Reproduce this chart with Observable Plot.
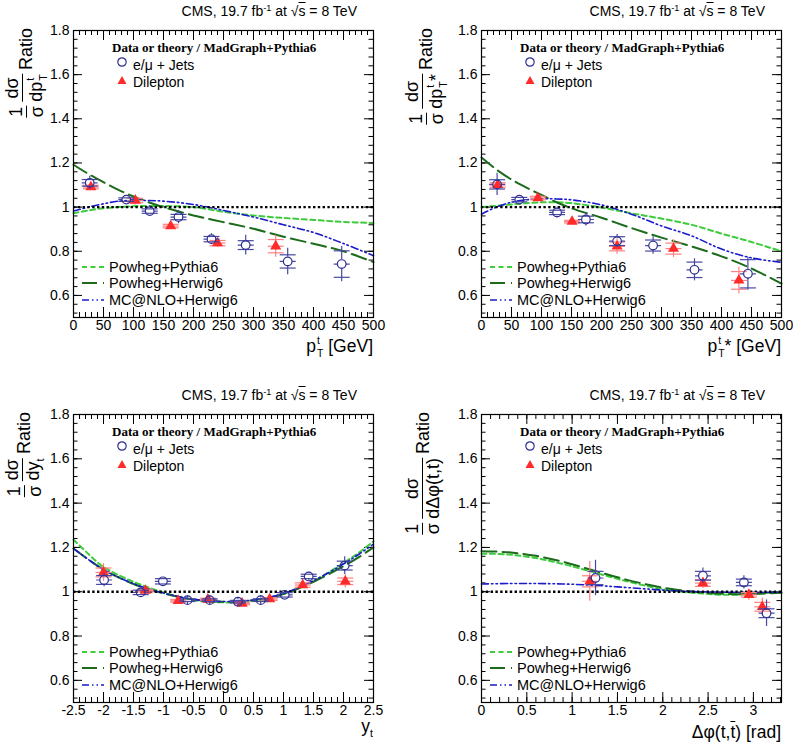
<!DOCTYPE html>
<html><head><meta charset="utf-8">
<script src="https://cdn.jsdelivr.net/npm/d3@7"></script>
<script src="https://cdn.jsdelivr.net/npm/@observablehq/plot@0.6"></script>
<style>
body{margin:0;background:#fff;width:793px;height:749px;position:relative;overflow:hidden;font-family:"Liberation Sans",Arial,Helvetica,sans-serif;color:#000;}
.panel{position:absolute;}
.panel svg{display:block;}
.abs{position:absolute;white-space:nowrap;line-height:1;}
.ylab{position:absolute;transform-origin:0 0;transform:rotate(-90deg) translateX(-100%);display:flex;align-items:center;font-size:18px;white-space:nowrap;line-height:1;}
.frac{display:inline-flex;flex-direction:column;align-items:center;margin-right:4px;}
.frac .num{border-bottom:1.5px solid #000;padding:0 1px 1px;text-align:center;align-self:stretch;}
.frac .den{padding-top:1px;}
.ss{display:inline-flex;flex-direction:column;font-size:0.6em;line-height:1.2;vertical-align:0.75em;margin-left:1px;}
.ol{text-decoration:overline;}
.ltitle{font-family:"Liberation Serif","Times New Roman",serif;font-weight:bold;font-size:13px;}
</style></head><body>
<script>
// ---------------- DATA ----------------
const yTicks = [0.6, 0.8, 1, 1.2, 1.4, 1.6, 1.8];
const ptTicks = [0, 50, 100, 150, 200, 250, 300, 350, 400, 450, 500];
const yTopTicks = [-2.5, -2, -1.5, -1, -0.5, 0, 0.5, 1, 1.5, 2, 2.5];
const dphiTicks = [0, 0.5, 1, 1.5, 2, 2.5, 3];

// top-quark pT
const ptLJx   = [27, 88, 127, 175, 230, 287, 357, 447];
const ptLJv   = [1.11, 1.034, 0.982, 0.955, 0.855, 0.828, 0.754, 0.742];
const ptLJerr = [0.03, 0.02, 0.025, 0.03, 0.025, 0.045, 0.06, 0.08];
const ptLJst  = [0.015, 0.008, 0.01, 0.012, 0.012, 0.02, 0.03, 0.06];
const ptDLx   = [29, 103, 162, 240, 337];
const ptDLv   = [1.091, 1.03, 0.914, 0.837, 0.823];
const ptDLerr = [0.015, 0.02, 0.015, 0.02, 0.05];
const ptDLst  = [0.008, 0.01, 0.008, 0.012, 0.03];
const ptGrid  = [0, 25, 50, 75, 100, 125, 150, 200, 250, 300, 350, 400, 450, 500];
const ptPowPy = [0.972, 0.985, 0.995, 1.0, 1.004, 1.005, 1.005, 1.0, 0.979, 0.962, 0.951, 0.942, 0.933, 0.928];
const ptPowHw = [1.192, 1.15, 1.113, 1.078, 1.048, 1.022, 1.0, 0.962, 0.932, 0.902, 0.866, 0.834, 0.80, 0.751];
const ptMcHw  = [0.982, 1.0, 1.015, 1.027, 1.03, 1.03, 1.027, 1.012, 0.985, 0.955, 0.92, 0.885, 0.835, 0.78];

// top-quark pT in ttbar rest frame
const psLJx   = [26, 63, 126, 174, 226, 286, 355, 444];
const psLJv   = [1.103, 1.034, 0.976, 0.944, 0.846, 0.826, 0.716, 0.698];
const psLJerr = [0.05, 0.02, 0.025, 0.03, 0.03, 0.04, 0.05, 0.075];
const psLJst  = [0.021, 0.01, 0.01, 0.015, 0.02, 0.025, 0.035, 0.064];
const psDLx   = [27, 94, 151, 226, 320, 429];
const psDLv   = [1.1, 1.041, 0.934, 0.822, 0.812, 0.668];
const psDLerr = [0.02, 0.015, 0.012, 0.035, 0.04, 0.06];
const psDLst  = [0.01, 0.008, 0.006, 0.02, 0.025, 0.04];
const psGrid  = [0, 25, 50, 75, 100, 125, 150, 200, 250, 300, 350, 400, 450, 500];
const psPowPy = [1.0, 1.006, 1.012, 1.018, 1.022, 1.022, 1.018, 0.998, 0.972, 0.948, 0.92, 0.88, 0.842, 0.80];
const psPowHw = [1.225, 1.17, 1.125, 1.088, 1.055, 1.022, 0.995, 0.952, 0.905, 0.862, 0.822, 0.777, 0.722, 0.653];
const psMcHw  = [0.968, 1.0, 1.022, 1.033, 1.038, 1.037, 1.033, 1.01, 0.968, 0.915, 0.87, 0.81, 0.77, 0.75];

// top-quark rapidity
const ytLJx   = [-1.99, -1.38, -1.01, -0.6, -0.23, 0.24, 0.62, 1.02, 1.42, 2.02];
const ytLJv   = [1.053, 0.997, 1.047, 0.962, 0.962, 0.955, 0.962, 0.986, 1.069, 1.118];
const ytLJerr = [0.03, 0.02, 0.02, 0.01, 0.01, 0.01, 0.01, 0.02, 0.015, 0.04];
const ytLJst  = [0.02, 0.01, 0.012, 0.006, 0.006, 0.006, 0.006, 0.01, 0.01, 0.02];
const ytDLx   = [-2.0, -1.3, -0.755, -0.26, 0.31, 0.77, 1.32, 2.03];
const ytDLv   = [1.087, 1.005, 0.959, 0.965, 0.947, 0.967, 1.03, 1.047];
const ytDLerr = [0.04, 0.01, 0.01, 0.01, 0.01, 0.01, 0.015, 0.03];
const ytDLst  = [0.02, 0.006, 0.006, 0.006, 0.006, 0.006, 0.01, 0.015];
const ytGrid  = [-2.5, -2.25, -2, -1.5, -1, -0.5, 0, 0.5, 1, 1.5, 2, 2.25, 2.5];
const ytPowPy = [1.235, 1.17, 1.112, 1.045, 0.997, 0.962, 0.952, 0.958, 0.99, 1.048, 1.13, 1.175, 1.228];
const ytPowHw = [1.195, 1.145, 1.1, 1.035, 0.993, 0.965, 0.955, 0.962, 0.99, 1.045, 1.115, 1.155, 1.2];
const ytMcHw  = [1.195, 1.145, 1.1, 1.036, 0.994, 0.966, 0.956, 0.963, 0.992, 1.05, 1.125, 1.168, 1.215];

// azimuthal difference
const dpLJx   = [1.258, 2.443, 2.895, 3.145];
const dpLJv   = [1.062, 1.072, 1.042, 0.903];
const dpLJerr = [0.08, 0.035, 0.03, 0.06];
const dpLJst  = [0.03, 0.02, 0.015, 0.02];
const dpDLx   = [1.195, 2.443, 2.95, 3.098];
const dpDLv   = [1.047, 1.039, 0.986, 0.932];
const dpDLerr = [0.09, 0.025, 0.025, 0.04];
const dpDLst  = [0.025, 0.015, 0.01, 0.02];
const dpGrid  = [0, 0.3, 0.6, 0.9, 1.2, 1.5, 1.8, 2.1, 2.4, 2.7, 3.0, 3.31];
const dpPowPy = [1.172, 1.168, 1.152, 1.125, 1.092, 1.058, 1.028, 1.005, 0.993, 0.986, 0.99, 1.0];
const dpPowHw = [1.183, 1.178, 1.162, 1.135, 1.1, 1.065, 1.035, 1.012, 0.998, 0.99, 0.99, 0.995];
const dpMcHw  = [1.035, 1.037, 1.037, 1.035, 1.03, 1.022, 1.013, 1.005, 1.0, 0.998, 0.997, 0.998];

// ---------------- STYLE ----------------
const FONT = '"Liberation Sans", Arial, Helvetica, sans-serif';
const Y_DOMAIN = [0.5, 1.8];
const C_LJ = "#2f2f91", C_LJ_ERR = "#4848a3", C_DL = "#ff2a2a", C_DL_ERR = "#ff8080";
const SERIES = [
  {name: "Powheg+Pythia6", stroke: "#3ccc3c", dash: "5,3.5", width: 2},
  {name: "Powheg+Herwig6", stroke: "#1b6b1b", dash: "15,6", width: 2},
  {name: "MC@NLO+Herwig6", stroke: "#1a1acc", dash: "7,3,1.5,3,1.5,3", width: 1.6}
];
const fmt = d => String(+d.toFixed(2));
const hbar = {draw(ctx, size) { const r = Math.sqrt(size / Math.PI); ctx.moveTo(-r, 0); ctx.lineTo(r, 0); }};
const hbarGap = {draw(ctx, size) { const r = Math.sqrt(size / Math.PI); ctx.moveTo(-r, 0); ctx.lineTo(-4.3, 0); ctx.moveTo(4.3, 0); ctx.lineTo(r, 0); }};

const zipPts = (xs, vs, es, ss) => xs.map((x, i) => ({x, v: vs[i], e: es[i], s: ss[i]}));
const zipLine = (xs, vs) => xs.map((x, i) => ({x, y: vs[i]}));

const HEADER = 'CMS, 19.7 fb<sup style="font-size:0.65em;vertical-align:0.55em">-1</sup> at &radic;<span class="ol">s</span> = 8 TeV';
const ss = (a, b) => `<span class="ss"><span>${a}</span><span>${b}</span></span>`;

function mkPanel(cfg) {
  const {left, top, width, height, mL, mR, mT, mB, xDomain, xMajor, xMinorStep, lj, dl, curves, ylab, xlab, xlabBase} = cfg;
  const fw = width - mL - mR, fh = height - mT - mB;
  const yPx = fh / (Y_DOMAIN[1] - Y_DOMAIN[0]);
  const gap = 4.3 / yPx;
  const xMinor = d3.range(Math.round(xDomain[0] / xMinorStep), Math.floor(xDomain[1] / xMinorStep + 1e-6) + 1).map(k => +(k * xMinorStep).toFixed(4));
  const yMinor = d3.range(13, 46).map(k => +(k * 0.04).toFixed(2)).filter(v => v > 0.5 && v <= 1.8);
  const tk = {stroke: "#000", strokeWidth: 1};
  const marks = [
    Plot.tickX(xMinor, {x: d => d, insetTop: fh - 5, ...tk}),
    Plot.tickX(xMajor, {x: d => d, insetTop: fh - 10, ...tk}),
    Plot.tickX(xMinor, {x: d => d, insetBottom: fh - 5, ...tk}),
    Plot.tickX(xMajor, {x: d => d, insetBottom: fh - 10, ...tk}),
    Plot.tickY(yMinor, {y: d => d, insetRight: fw - 4.5, ...tk}),
    Plot.tickY(yTicks, {y: d => d, insetRight: fw - 9, ...tk}),
    Plot.tickY(yMinor, {y: d => d, insetLeft: fw - 4.5, ...tk}),
    Plot.tickY(yTicks, {y: d => d, insetLeft: fw - 9, ...tk}),
    Plot.axisX(xMajor, {tickSize: 0, tickPadding: 3, tickFormat: fmt, fontSize: 14, label: null}),
    Plot.axisY(yTicks, {tickSize: 0, tickPadding: 4, tickFormat: fmt, fontSize: 14, label: null}),
    ...curves.map((c, i) => Plot.line(c, {x: "x", y: "y", curve: "catmull-rom", stroke: SERIES[i].stroke, strokeWidth: SERIES[i].width, strokeDasharray: SERIES[i].dash})),
    Plot.ruleY([1], {stroke: "#000", strokeWidth: 2.4, strokeDasharray: "2.4,2.4"}),
    // dilepton
    Plot.ruleX(dl, {x: "x", y1: d => d.v - d.e, y2: d => d.v + d.e, stroke: C_DL_ERR, strokeWidth: 1.2}),
    Plot.dot(dl, {x: "x", y: d => d.v + d.s, symbol: hbar, r: 8, stroke: C_DL_ERR, strokeWidth: 1.2}),
    Plot.dot(dl, {x: "x", y: d => d.v - d.s, symbol: hbar, r: 8, stroke: C_DL_ERR, strokeWidth: 1.2}),
    Plot.dot(dl, {x: "x", y: "v", symbol: hbar, r: 8, stroke: C_DL_ERR, strokeWidth: 1.2}),
    Plot.dot(dl, {x: "x", y: "v", symbol: "triangle", r: 4.1, fill: C_DL, stroke: "none"}),
    // lepton+jets
    Plot.ruleX(lj, {x: "x", y1: d => d.v + gap, y2: d => d.v + d.e, stroke: C_LJ_ERR, strokeWidth: 1.2}),
    Plot.ruleX(lj, {x: "x", y1: d => d.v - gap, y2: d => d.v - d.e, stroke: C_LJ_ERR, strokeWidth: 1.2}),
    Plot.dot(lj, {x: "x", y: d => d.v + d.s, symbol: hbar, r: 8, stroke: C_LJ_ERR, strokeWidth: 1.2}),
    Plot.dot(lj, {x: "x", y: d => d.v - d.s, symbol: hbar, r: 8, stroke: C_LJ_ERR, strokeWidth: 1.2}),
    Plot.dot(lj, {x: "x", y: "v", symbol: hbarGap, r: 8, stroke: C_LJ_ERR, strokeWidth: 1.2}),
    Plot.dot(lj, {x: "x", y: "v", r: 4.3, fill: "none", stroke: C_LJ, strokeWidth: 1.2}),
    Plot.frame({stroke: "#000", strokeWidth: 1.2})
  ];
  const chart = Plot.plot({
    width, height, marginLeft: mL, marginRight: mR, marginTop: mT, marginBottom: mB,
    x: {domain: xDomain}, y: {domain: Y_DOMAIN},
    style: {fontFamily: FONT, fontSize: "14px", background: "#fff", color: "#000"},
    marks
  });
  const div = document.createElement("div");
  div.className = "panel";
  div.style.left = left + "px"; div.style.top = top + "px";
  div.style.width = width + "px"; div.style.height = height + "px";
  div.appendChild(chart);
  const add = (html, css, cls = "abs") => {
    const e = document.createElement("div");
    e.className = cls; e.innerHTML = html;
    Object.assign(e.style, css);
    div.appendChild(e);
    return e;
  };
  // header
  add(HEADER, {right: (width - (mL + fw - 16)) + "px", top: (mT - 14 - 0.85 * 14) + "px", fontSize: "14px"});
  // legend (data)
  add("Data or theory / MadGraph+Pythia6", {left: (mL + 39) + "px", top: (mT + 22 - 0.84 * 13) + "px"}, "abs ltitle");
  add(`<svg width="10" height="10" style="position:absolute;left:-${60-44}px;top:-1px"><circle cx="5" cy="5" r="4.2" fill="none" stroke="${C_LJ}" stroke-width="1.2"/></svg>e/&mu; + Jets`,
      {left: (mL + 60) + "px", top: (mT + 39.5 - 0.85 * 14) + "px", fontSize: "14px"});
  add(`<svg width="10" height="10" style="position:absolute;left:-${60-44}px;top:0px"><path d="M5,1 L9.5,9 L0.5,9 Z" fill="${C_DL}"/></svg>Dilepton`,
      {left: (mL + 60) + "px", top: (mT + 56.5 - 0.85 * 14) + "px", fontSize: "14px"});
  // legend (theory)
  const rows = [50.3, 33.7, 17];
  SERIES.forEach((s, i) => {
    const cy = mT + fh - rows[i];
    add(`<svg width="22" height="6" style="position:absolute;left:-27px;top:${0.85 * 14 - 5 - 3}px"><line x1="0" y1="3" x2="22" y2="3" stroke="${s.stroke}" stroke-width="${s.width}" stroke-dasharray="${s.dash}"/></svg>${s.name}`,
        {left: (mL + 36) + "px", top: (cy + 5 - 0.85 * 14) + "px", fontSize: "14.5px"});
  });
  // axis titles
  add(xlab, {right: (width - (mL + fw)) + "px", top: (mT + fh + xlabBase - 0.85 * 17.5) + "px", fontSize: "17.5px"});
  add(ylab, {left: "3px", top: (mT - 2) + "px"}, "ylab");
  document.body.appendChild(div);
}

const fracs = den => `<span class="frac"><span class="num">1</span><span class="den">&sigma;</span></span><span class="frac"><span class="num">d&sigma;</span><span class="den">${den}</span></span><span>Ratio</span>`;

const defsTop = {top: 0, height: 370, mT: 30, mB: 53};
const defsBot = {top: 370, height: 379, mT: 44, mB: 47};
mkPanel({...defsTop, left: 0, width: 400, mL: 73, mR: 27, xDomain: [0, 500], xMajor: ptTicks, xMinorStep: 10,
  lj: zipPts(ptLJx, ptLJv, ptLJerr, ptLJst), dl: zipPts(ptDLx, ptDLv, ptDLerr, ptDLst),
  curves: [zipLine(ptGrid, ptPowPy), zipLine(ptGrid, ptPowHw), zipLine(ptGrid, ptMcHw)],
  ylab: fracs("dp" + ss("t", "T")), xlab: "p" + ss("t", "T") + " [GeV]", xlabBase: 32});
mkPanel({...defsTop, left: 400, width: 393, mL: 81, mR: 12, xDomain: [0, 500], xMajor: ptTicks, xMinorStep: 10,
  lj: zipPts(psLJx, psLJv, psLJerr, psLJst), dl: zipPts(psDLx, psDLv, psDLerr, psDLst),
  curves: [zipLine(psGrid, psPowPy), zipLine(psGrid, psPowHw), zipLine(psGrid, psMcHw)],
  ylab: fracs("dp" + ss("t", "T") + "*"), xlab: "p" + ss("t", "T") + "* [GeV]", xlabBase: 32});
mkPanel({...defsBot, left: 0, width: 400, mL: 73, mR: 27, xDomain: [-2.5, 2.5], xMajor: yTopTicks, xMinorStep: 0.1,
  lj: zipPts(ytLJx, ytLJv, ytLJerr, ytLJst), dl: zipPts(ytDLx, ytDLv, ytDLerr, ytDLst),
  curves: [zipLine(ytGrid, ytPowPy), zipLine(ytGrid, ytPowHw), zipLine(ytGrid, ytMcHw)],
  ylab: fracs('dy<sub style="font-size:0.6em">t</sub>'), xlab: 'y<sub style="font-size:0.6em">t</sub>', xlabBase: 31});
mkPanel({...defsBot, left: 400, width: 393, mL: 81, mR: 12, xDomain: [0, 3.31], xMajor: dphiTicks, xMinorStep: 0.1,
  lj: zipPts(dpLJx, dpLJv, dpLJerr, dpLJst), dl: zipPts(dpDLx, dpDLv, dpDLerr, dpDLst),
  curves: [zipLine(dpGrid, dpPowPy), zipLine(dpGrid, dpPowHw), zipLine(dpGrid, dpMcHw)],
  ylab: fracs('d&Delta;&phi;(t,<span class="ol">t</span>)'), xlab: '&Delta;&phi;(t,<span class="ol">t</span>) [rad]', xlabBase: 37});
</script>
</body></html>
